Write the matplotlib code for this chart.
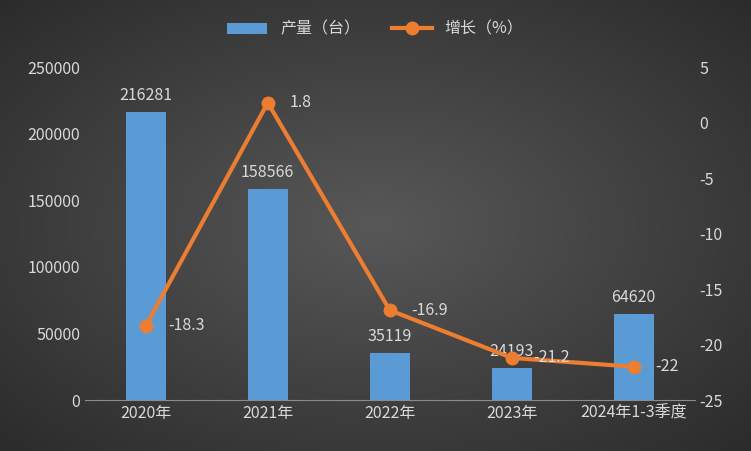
import numpy as np
import matplotlib.pyplot as plt

plt.rcParams['font.family'] = ['Noto Sans CJK SC', 'DejaVu Sans']
plt.rcParams['axes.unicode_minus'] = False

categories = ['2020年', '2021年', '2022年', '2023年', '2024年1-3季度']
output = [216281, 158566, 35119, 24193, 64620]
growth = [-18.3, 1.8, -16.9, -21.2, -22]
growth_labels = ['-18.3', '1.8', '-16.9', '-21.2', '-22']

txt = '#d9d9d9'
fig = plt.figure(figsize=(7.51, 4.51), dpi=100)

# radial dark background, ~#575757 in the middle to ~#2b2b2b at the corners
bg = fig.add_axes([0, 0, 1, 1])
yy, xx = np.mgrid[-1:1:200j, -1:1:300j]
r = np.clip(np.sqrt(xx ** 2 + yy ** 2) / 1.414, 0, 1)
g = 0.345 - (0.345 - 0.17) * r
img = np.dstack([g, g, g])
bg.imshow(img, aspect='auto', extent=[0, 1, 0, 1])
bg.axis('off')

ax = fig.add_axes([0.113, 0.113, 0.812, 0.738])
ax.patch.set_alpha(0)
x = np.arange(len(categories))
bars = ax.bar(x, output, width=0.33, color='#5b9bd5', label='产量（台）', zorder=2)
ax.set_ylim(0, 250000)
ax.set_yticks(range(0, 250001, 50000))
ax.set_xlim(-0.5, len(categories) - 0.5)
ax.set_xticks(x)
ax.set_xticklabels(categories)
for i, v in enumerate(output):
    ax.text(i, v + 6000, str(v), ha='center', va='bottom', color=txt, fontsize=11.5)
for s in ax.spines.values():
    s.set_visible(False)
ax.spines['bottom'].set_visible(True)
ax.spines['bottom'].set_color('#8c8c8c')
ax.tick_params(colors=txt, labelsize=11.5, length=0)

ax2 = ax.twinx()
ln, = ax2.plot(x, growth, color='#ed7d31', lw=3, marker='o', ms=9, label='增长（%）', zorder=3)
ax2.set_ylim(-25, 5)
ax2.set_yticks(range(-25, 6, 5))
for s in ax2.spines.values():
    s.set_visible(False)
ax2.tick_params(colors=txt, labelsize=11.5, length=0)
for i, (v, l) in enumerate(zip(growth, growth_labels)):
    ax2.text(i + 0.18, v, l, ha='left', va='center', color=txt, fontsize=11.5)

fig.legend([bars, ln], ['产量（台）', '增长（%）'], loc='center', bbox_to_anchor=(0.5, 0.935),
           ncol=2, frameon=False, fontsize=11.5, labelcolor=txt, handlelength=2.5)

fig.savefig('out.png', dpi=100)
